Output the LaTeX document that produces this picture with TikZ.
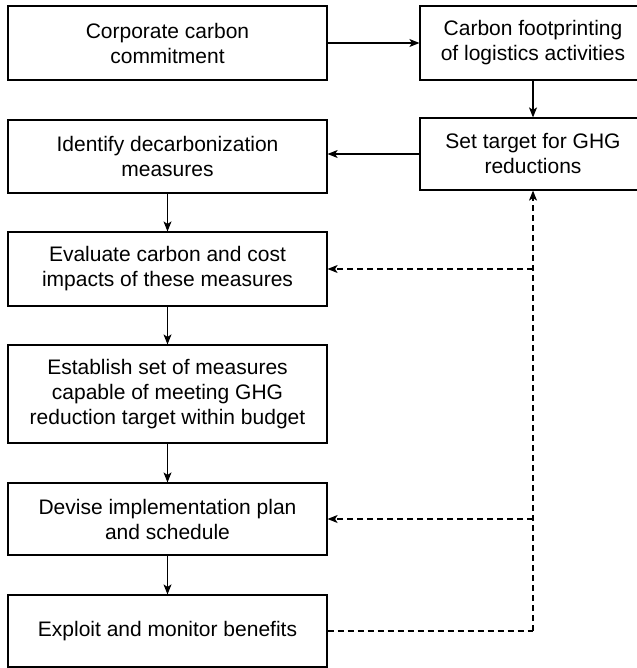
\documentclass[tikz,border=0pt]{standalone}
\usepackage{fontspec}
\setmainfont{Liberation Sans}
\usetikzlibrary{arrows.meta}
\begin{document}
\begin{tikzpicture}[x=1pt,y=-1pt,
 box/.style={draw, line width=1.2pt, rectangle, align=center, inner sep=0pt, font=\fontsize{21}{25}\selectfont},
 arr/.style={-{Stealth[length=10pt,width=8pt,inset=2.5pt]}, line width=1.2pt},
 darr/.style={arr, dash pattern=on 6pt off 4pt},
 dline/.style={line width=1.2pt, dash pattern=on 6pt off 4pt}]
\useasboundingbox (0,0) rectangle (636,668);
\node[box, minimum width=319pt, minimum height=74pt] (b1) at (167.5,43) {Corporate carbon\\commitment};
\node[box, minimum width=226pt, minimum height=74pt] (b2) at (533,43) {Carbon footprinting\\of logistics activities};
\node[box, minimum width=226pt, minimum height=72pt] (b3) at (533,154) {Set target for GHG\\reductions};
\node[box, minimum width=319pt, minimum height=73pt] (b4) at (167.5,156.5) {Identify decarbonization\\measures};
\node[box, minimum width=319pt, minimum height=74pt] (b5) at (167.5,269) {Evaluate carbon and cost\\impacts of these measures};
\node[box, minimum width=319pt, minimum height=98pt] (b6) at (167.5,394) {Establish set of measures\\capable of meeting GHG\\reduction target within budget};
\node[box, minimum width=319pt, minimum height=72pt] (b7) at (167.5,519) {Devise implementation plan\\and schedule};
\node[box, minimum width=319pt, minimum height=72pt] (b8) at (167.5,631) {Exploit and monitor benefits};
\coordinate (c8) at (533,631);
\draw[arr] (b1) -- (b2);
\draw[arr] (b2) -- (b3);
\draw[arr] (b3.west) -- (b3.west -| b4.east);
\draw[arr] (b4) -- (b5);
\draw[arr] (b5) -- (b6);
\draw[arr] (b6) -- (b7);
\draw[arr] (b7) -- (b8);
\draw[dline] (b8.east) -- (c8);
\draw[darr] (c8) -- (b3.south);
\draw[darr] (b5.east -| c8) -- (b5.east);
\draw[darr] (b7.east -| c8) -- (b7.east);
\end{tikzpicture}
\end{document}
